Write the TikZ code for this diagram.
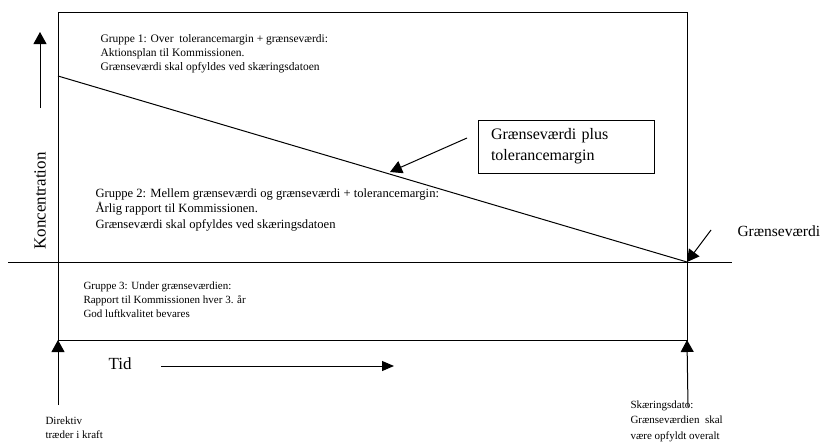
\documentclass[tikz,border=0pt]{standalone}
\usepackage{fontspec}
\setmainfont{Liberation Serif}
\usetikzlibrary{arrows.meta,positioning}
\tikzset{
    bigtip/.style = {-{Triangle[length=12pt,width=13pt]}},
    gruppe/.style = {anchor=north west, align=left, inner sep=0pt,
        font=\fontsize{11.5}{14}\selectfont},
    note/.style = {anchor=north west, align=left, inner sep=0pt,
        font=\fontsize{11}{15.5}\selectfont},
    biglabel/.style = {inner sep=0pt, font=\fontsize{17}{21}\selectfont}
}
\begin{document}
\begin{tikzpicture}[x=1pt,y=-1pt,line width=1pt]
    \useasboundingbox (0,0) rectangle (826,442);
    % frame and limit value line
    \coordinate (tl) at (58,12);
    \coordinate (br) at (687,340);
    \draw (tl) rectangle (br);
    \coordinate (limL) at (8,262);
    \coordinate (limR) at (732,262);
    \coordinate (cut) at (687,262);
    \draw (limL) -- (limR);
    \coordinate (start) at (58,76);
    \draw (start) -- (cut);
    % axes
    \coordinate (ybot) at (40,108);
    \coordinate (ytop) at (40,32);
    \draw[bigtip] (ybot) -- (ytop);
    \node[biglabel, rotate=90] (konc) at (40,201) {Koncentration};
    \node[biglabel, anchor=west] (tid) at (108,364) {Tid};
    \coordinate (tidstart) at (161,366);
    \coordinate (tidend) at (394,366);
    \draw[-{Triangle[length=12pt,width=10pt]}] (tidstart) -- (tidend);
    % groups
    \node[gruppe] (g1) at (100,34) {Gruppe 1: Over\ \ tolerancemargin + grænseværdi:\\
        Aktionsplan til Kommissionen.\\
        Grænseværdi skal opfyldes ved skæringsdatoen};
    \node[gruppe, font=\fontsize{12.6}{15.5}\selectfont] (g2) at (95,188)
        {Gruppe 2: Mellem grænseværdi og grænseværdi + tolerancemargin:\\
        Årlig rapport til Kommissionen.\\
        Grænseværdi skal opfyldes ved skæringsdatoen};
    \node[gruppe, font=\fontsize{11}{14}\selectfont] (g3) at (83,281)
        {Gruppe 3: Under grænseværdien:\\
        Rapport til Kommissionen hver 3. år\\
        God luftkvalitet bevares};
    % callouts
    \node[draw, line width=0.8pt, minimum width=176pt, minimum height=53pt,
        text width=150pt, align=left, inner sep=0pt,
        font=\fontsize{16}{21}\selectfont] (box) at (566,146.5)
        {Grænseværdi plus\\tolerancemargin};
    \coordinate (boxarr) at (467,138);
    \coordinate (onlinie) at (390,172);
    \draw[bigtip] (boxarr) -- (onlinie);
    \node[biglabel, anchor=west, font=\fontsize{15.5}{19}\selectfont] (gv) at (737,231) {Grænseværdi};
    \coordinate (gvarr) at (711,230);
    \draw[bigtip] (gvarr) -- (cut);
    % dates
    \coordinate (dirbot) at (58,405);
    \draw[bigtip] (dirbot) -- (tl |- br);
    \node[note, font=\fontsize{11}{14}\selectfont] (dir) at (45,416) {Direktiv\\træder i kraft};
    \coordinate (skbot) at (688,407);
    \draw[bigtip] (skbot) -- (br);
    \node[note] (sk) at (630,400) {Skæringsdato:\\Grænseværdien\ \ skal\\være opfyldt overalt};
\end{tikzpicture}
\end{document}
